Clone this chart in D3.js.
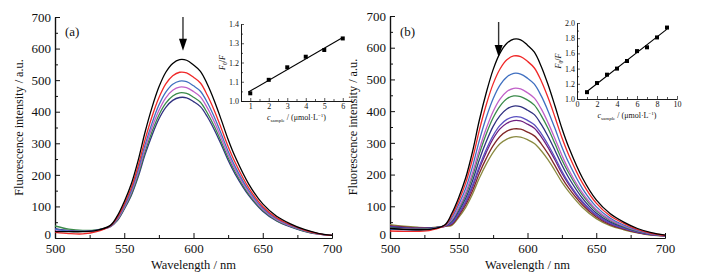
<!DOCTYPE html>
<html>
<head>
<meta charset="utf-8">
<script src="https://cdn.jsdelivr.net/npm/d3@7"></script>
<style>
  body { margin: 0; background: #fff; }
  svg text { font-family: "Liberation Serif", "Times New Roman", Times, serif; fill: #111; }
  .axis path, .axis line { stroke: #111; }
</style>
</head>
<body>
<svg id="chart" width="705" height="280"></svg>
<script>
// wavelengths shared by every spectrum
const wavelengths = [500,510,520,530,540,545,550,555,560,565,570,575,580,585,590,595,600,605,610,615,620,625,630,640,650,660,670,680,690,700];

// panel (a) spectra
const aBlack  = [20,20,20,24,40,70,115,170,245,335,413,478,525,553,565,563,548,528,487,435,375,312,258,170,108,69,45,27,15,8];
const aRed    = [18,14,13,20,39,65,107,158,228,311,384,444,488,514,525,523,509,491,452,404,348,290,240,158,100,64,42,25,14,8];
const aBlue   = [28,22,21,24,38,62,101,150,216,295,363,421,462,487,497,495,482,465,429,383,330,275,227,150,95,61,40,24,14,8];
const aViolet = [26,22,21,24,37,59,97,144,207,283,349,404,444,468,478,476,464,447,412,368,317,264,218,144,91,58,38,23,13,8];
const aGreen  = [38,28,24,26,37,57,94,138,199,273,336,389,427,450,460,458,446,430,396,354,305,254,210,138,88,56,37,22,13,8];
const aNavy   = [30,24,22,25,36,55,91,134,193,264,325,377,414,436,445,444,432,416,384,343,296,246,203,134,85,54,35,21,12,8];

// panel (b) spectra
const bBlack  = [30,27,26,28,42,78,128,189,272,372,458,531,583,614,627,625,608,586,541,483,416,346,286,189,120,77,50,30,17,9];
const bRed    = [22,21,21,25,40,71,117,173,249,340,420,486,533,562,574,572,557,536,495,442,381,317,262,173,110,70,46,27,15,8];
const bBlue   = [28,26,25,28,40,64,106,156,225,308,380,439,482,508,519,517,504,485,448,400,345,287,237,156,99,63,41,25,14,8];
const bViolet = [30,28,27,29,39,58,96,142,205,280,345,399,438,462,472,470,458,441,407,363,313,261,215,142,90,58,38,23,13,8];
const bGreen  = [32,29,28,30,39,56,91,135,194,266,328,379,416,439,448,446,435,419,386,345,297,247,205,135,86,55,36,22,13,8];
const bNavy   = [34,31,29,31,38,52,85,125,180,247,304,352,386,407,416,414,403,389,358,320,276,230,190,125,79,51,34,21,12,8];
const bIndigo = [36,32,30,31,38,47,78,115,166,226,279,323,355,374,382,381,371,357,329,294,254,211,174,115,73,47,31,19,11,7];
const bPurple = [37,33,31,32,37,46,75,111,160,219,270,313,344,362,370,369,359,346,319,285,246,204,169,111,71,45,30,18,11,7];
const bBrown  = [39,35,32,32,37,43,70,104,149,204,251,291,320,337,344,343,334,322,297,265,228,190,157,104,66,42,28,17,10,7];
const bOlive  = [42,37,34,33,37,40,65,96,138,189,233,270,297,312,319,318,310,298,275,246,212,176,146,96,61,39,26,16,9,7];

const seriesA = [aBlack, aRed, aBlue, aViolet, aGreen, aNavy];
const colorsA = ["#000000", "#f02828", "#3f6fc0", "#c060c8", "#3a8a4a", "#303080"];
const seriesB = [bBlack, bRed, bBlue, bViolet, bGreen, bNavy, bIndigo, bPurple, bBrown, bOlive];
const colorsB = ["#000000", "#f02828", "#3f6fc0", "#c060c8", "#3a8a4a", "#303080", "#5a50c0", "#702080", "#802828", "#8a8a40"];

// insets: F0/F vs concentration
const insetAx = [1, 2, 3, 4, 5, 6];
const insetAy = [1.04, 1.11, 1.175, 1.23, 1.265, 1.325];
const insetBx = [1, 2, 3, 4, 5, 6, 7, 8, 9];
const insetBy = [1.09, 1.21, 1.32, 1.40, 1.50, 1.63, 1.68, 1.81, 1.94];

const svg = d3.select("svg#chart");

function inwardAxes(g, x, y, xTicks, xMinor, yTicks, yMinor, fs, big) {
    const tl = big ? 5 : 3, tm = big ? 3 : 2;
    let bottom = g.append("g").attr("class", "axis")
        .attr("transform", `translate(0,${y.range()[0]})`);
    bottom.call(d3.axisBottom(x).tickValues(xMinor).tickSize(-tm).tickFormat("").tickSizeOuter(0));
    bottom.append("g").call(d3.axisBottom(x).tickValues(xTicks).tickSize(-tl).tickPadding(big ? 6 : 2)
        .tickFormat(d3.format("d")).tickSizeOuter(0));
    let left = g.append("g").attr("class", "axis")
        .attr("transform", `translate(${x.range()[0]},0)`);
    left.call(d3.axisLeft(y).tickValues(yMinor).tickSize(-tm).tickFormat("").tickSizeOuter(0));
    left.append("g").attr("class", "yl").call(d3.axisLeft(y).tickValues(yTicks).tickSize(-tl).tickPadding(big ? 4 : 2)
        .tickFormat(big ? d3.format("d") : d3.format(".1f")).tickSizeOuter(0));
    g.selectAll(".axis text").attr("font-size", fs).attr("font-family", "Liberation Serif").attr("fill", "#111");
    g.selectAll(".axis path").attr("stroke-width", big ? 1.2 : 0.8);
    g.selectAll(".axis line").attr("stroke-width", big ? 1 : 0.7);
}

function drawPanel(opt) {
    const g = svg.append("g");
    const x = d3.scaleLinear().domain([500, 700]).range(opt.xr);
    const y = d3.scaleLinear().domain([0, 700]).range(opt.yr);

    inwardAxes(g, x, y, d3.range(500, 701, 50), d3.range(525, 700, 50),
        d3.range(0, 701, 100), d3.range(50, 700, 100), 13, true);
    // lift the "0" label a little off the x labels
    g.selectAll(".yl text").filter(d => d === 0).attr("dy", "0em");

    const line = d3.line().x((d, i) => x(wavelengths[i])).y(d => y(d))
        .curve(d3.curveCatmullRom.alpha(0.5));
    g.append("g").selectAll("path").data(opt.series.slice().reverse())
        .join("path")
        .attr("d", d => line(d))
        .attr("fill", "none")
        .attr("stroke", (d, i) => opt.colors[opt.series.length - 1 - i])
        .attr("stroke-width", 1.3);

    // arrow
    g.append("line")
        .attr("x1", x(opt.arrow[0])).attr("x2", x(opt.arrow[0]))
        .attr("y1", y(opt.arrow[1])).attr("y2", y(opt.arrow[2]) - 10)
        .attr("stroke", "#333").attr("stroke-width", 1.4);
    const ax = x(opt.arrow[0]), ay = y(opt.arrow[2]);
    g.append("path")
        .attr("d", `M${ax - 4},${ay - 12}L${ax + 4},${ay - 12}L${ax},${ay}Z`)
        .attr("fill", "#000");

    g.append("text").attr("x", opt.xr[0] + 10).attr("y", 36)
        .attr("font-size", 13).text(opt.label);

    g.append("text")
        .attr("transform", `translate(${opt.titleX},${(opt.yr[0] + opt.yr[1]) / 2}) rotate(-90)`)
        .attr("text-anchor", "middle").attr("font-size", 12.2)
        .text("Fluorescence intensity / a.u.");
    g.append("text").attr("x", (opt.xr[0] + opt.xr[1]) / 2).attr("y", 269)
        .attr("text-anchor", "middle").attr("font-size", 12.5)
        .text("Wavelength / nm");
}

function drawInset(opt) {
    const g = svg.append("g");
    const x = d3.scaleLinear().domain(opt.xd).range(opt.xr);
    const y = d3.scaleLinear().domain(opt.yd).range(opt.yr);
    inwardAxes(g, x, y, opt.xTicks, opt.xMinor, opt.yTicks, opt.yMinor, 8, false);

    // least squares fit line
    const xs = opt.px, ys = opt.py, n = xs.length;
    const mx = d3.mean(xs), my = d3.mean(ys);
    const slope = d3.sum(xs, (v, i) => (v - mx) * (ys[i] - my)) / d3.sum(xs, v => (v - mx) * (v - mx));
    const fx = [xs[0] - 0.1, xs[n - 1]];
    g.append("line")
        .attr("x1", x(fx[0])).attr("y1", y(my + slope * (fx[0] - mx)))
        .attr("x2", x(fx[1])).attr("y2", y(my + slope * (fx[1] - mx)))
        .attr("stroke", "#000").attr("stroke-width", 1.1);
    g.selectAll("rect.pt").data(xs).join("rect")
        .attr("class", "pt")
        .attr("x", (d) => x(d) - 2).attr("y", (d, i) => y(ys[i]) - 2)
        .attr("width", 4).attr("height", 4).attr("fill", "#000");

    const yl = g.append("text")
        .attr("transform", `translate(${opt.xr[0] - 16},${(opt.yr[0] + opt.yr[1]) / 2}) rotate(-90)`)
        .attr("text-anchor", "middle").attr("font-size", 8);
    yl.append("tspan").attr("font-style", "italic").text("F");
    yl.append("tspan").attr("font-size", 5.5).attr("dy", 2).text("0");
    yl.append("tspan").attr("dy", -2).text("/");
    yl.append("tspan").attr("font-style", "italic").text("F");

    const xl = g.append("text")
        .attr("x", (opt.xr[0] + opt.xr[1]) / 2).attr("y", opt.yr[0] + 19)
        .attr("text-anchor", "middle").attr("font-size", 8);
    xl.append("tspan").attr("font-style", "italic").text("c");
    xl.append("tspan").attr("font-size", 5).attr("dy", 2).text("sample");
    xl.append("tspan").attr("dy", -2).text(" / (\u03bcmol\u00b7L");
    xl.append("tspan").attr("font-size", 5).attr("dy", -3).text("\u22121");
    xl.append("tspan").attr("dy", 3).text(")");
}

drawPanel({xr: [55, 332], yr: [238, 17], series: seriesA, colors: colorsA,
    arrow: [592.4, 700, 593], label: "(a)", titleX: 23});
drawPanel({xr: [390, 665], yr: [238, 16], series: seriesB, colors: colorsB,
    arrow: [579, 681, 571], label: "(b)", titleX: 357});

drawInset({xd: [0.5, 6.5], xr: [241, 352], yd: [1.0, 1.4], yr: [101, 24],
    xTicks: [1, 2, 3, 4, 5, 6], xMinor: [1.5, 2.5, 3.5, 4.5, 5.5],
    yTicks: [1.0, 1.1, 1.2, 1.3, 1.4], yMinor: [1.05, 1.15, 1.25, 1.35],
    px: insetAx, py: insetAy});
drawInset({xd: [0, 10], xr: [577, 677], yd: [1.0, 2.0], yr: [99, 23],
    xTicks: [0, 2, 4, 6, 8, 10], xMinor: [1, 3, 5, 7, 9],
    yTicks: [1.0, 1.2, 1.4, 1.6, 1.8, 2.0], yMinor: [1.1, 1.3, 1.5, 1.7, 1.9],
    px: insetBx, py: insetBy});
</script>
</body>
</html>
